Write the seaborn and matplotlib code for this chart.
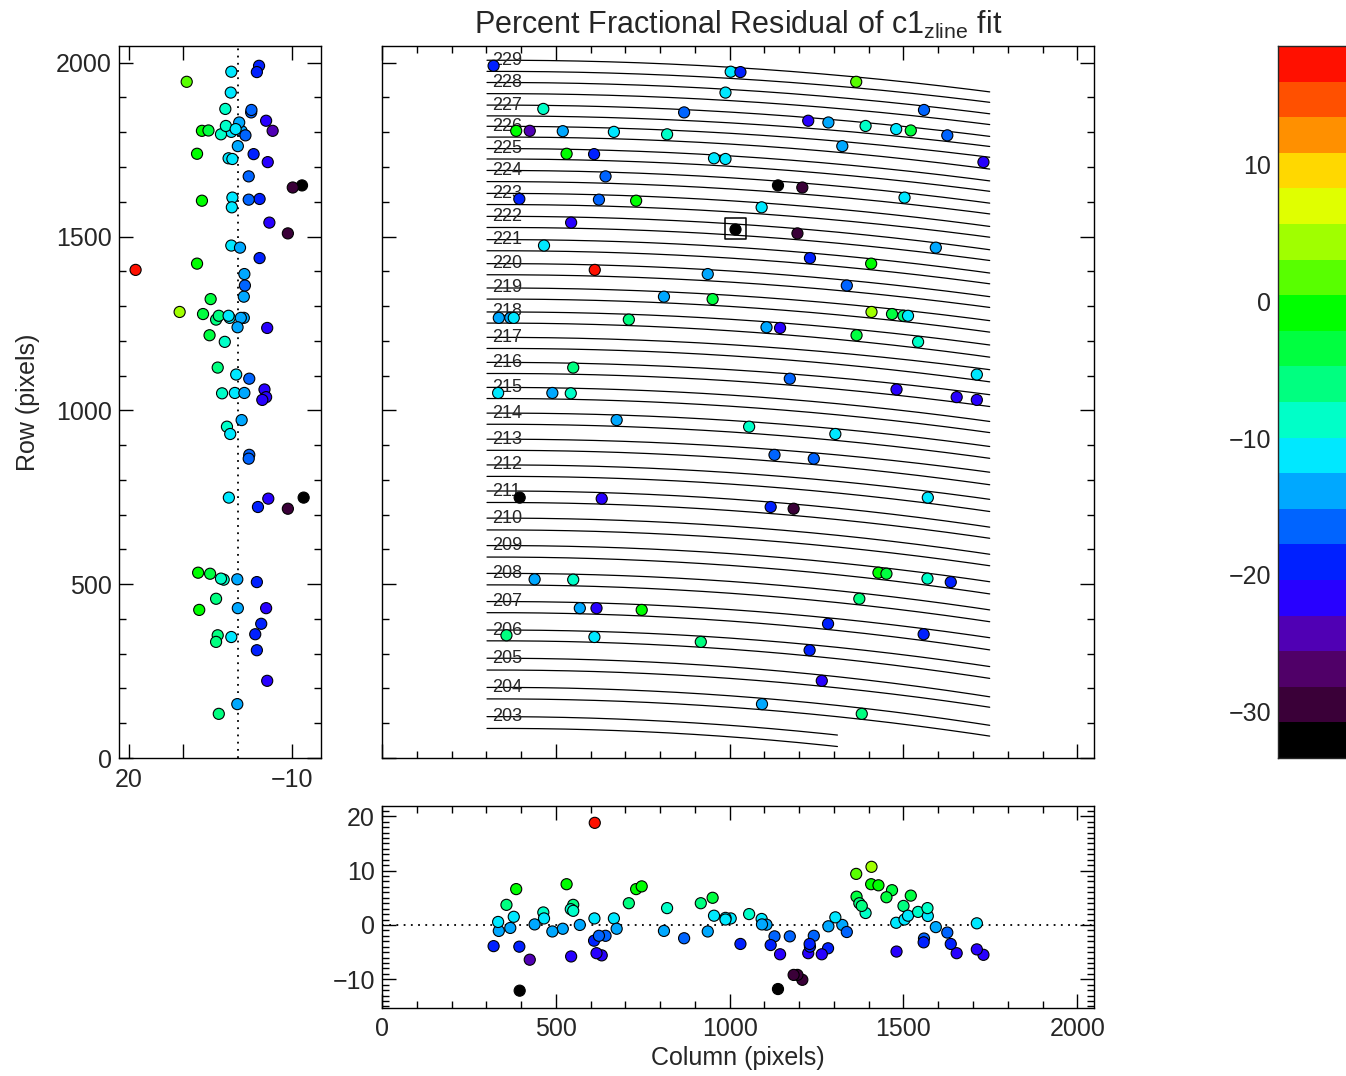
import numpy as np
import pandas as pd
import matplotlib
matplotlib.use("Agg")
import matplotlib.pyplot as plt
from matplotlib.colors import ListedColormap
from matplotlib.ticker import MultipleLocator, FixedLocator, NullFormatter
import seaborn as sns

# ---------------------------------------------------------------- data
# spot positions on the detector (pixels) and percent fractional residual
col = [321, 1003, 1031, 988, 464, 869, 386, 425, 520, 667, 820, 531, 610, 955, 988,
       643, 395, 624, 731, 544, 466, 612, 937, 1364, 1559, 1226, 1284, 1391, 1479, 1521,
       1626, 1324, 1730, 1139, 1209, 1503, 1092, 1195, 1593, 1231, 1407, 811, 951, 336, 369,
       379, 710, 550, 334, 490, 543, 675, 396, 632, 1337, 1408, 1467, 1500, 1513, 1106,
       1145, 1365, 1542, 1711, 1173, 1480, 1653, 1711, 1056, 1304, 1129, 1242, 1570, 1118, 1184,
       439, 550, 569, 617, 747, 358, 611, 917, 1428, 1451, 1569, 1636, 1373, 1283, 1558,
       1230, 1265, 1093, 1380]
row = [1991, 1974, 1973, 1914, 1867, 1857, 1804, 1804, 1803, 1801, 1794, 1738, 1737, 1725, 1723,
       1673, 1608, 1606, 1603, 1540, 1474, 1404, 1392, 1945, 1864, 1833, 1828, 1818, 1809, 1805,
       1791, 1760, 1714, 1647, 1641, 1612, 1584, 1509, 1468, 1438, 1422, 1327, 1320, 1266, 1266,
       1266, 1261, 1123, 1050, 1050, 1049, 972, 749, 746, 1359, 1283, 1277, 1272, 1272, 1239,
       1237, 1216, 1197, 1103, 1091, 1060, 1038, 1030, 953, 932, 872, 861, 749, 722, 717,
       514, 513, 431, 431, 426, 353, 348, 334, 533, 530, 516, 506, 458, 386, 356,
       310, 222, 155, 127]
resid = [-3.9, 1.2, -3.5, 1.3, 2.3, -2.45, 6.6, -6.4, -0.7, 1.2, 3.1, 7.5, -2.9, 1.7, 1.0,
         -2.0, -4.0, -2.0, 6.6, -5.8, 1.2, 18.8, -1.2, 9.4, -2.5, -5.2, -0.25, 2.2, 0.4, 5.4,
         -1.4, 0.0, -5.5, -11.8, -10.1, 1.0, 1.1, -9.2, -0.4, -4.0, 7.5, -1.1, 5.0, -1.1, -0.55,
         1.5, 4.0, 3.7, 0.55, -1.2, 2.9, -0.7, -12.1, -5.6, -1.3, 10.7, 6.4, 3.5, 1.7, 0.05,
         -5.4, 5.2, 2.4, 0.3, -2.1, -4.9, -5.2, -4.5, 2.0, 1.4, -2.1, -2.0, 1.65, -3.7, -9.2,
         0.1, 2.6, 0.0, -5.2, 7.1, 3.7, 1.2, 4.0, 7.3, 5.1, 3.1, -3.5, 4.0, -4.3, -3.2,
         -3.5, -5.4, 0.1, 3.5]

# flagged spot (boxed on the detector map)
flag_col = [1016]
flag_row = [1522]

# fiber traces: row at the left end, at column 1000 and at the right end
fiber_ids = [229, 228, 227, 226, 225, 224, 223, 222, 221, 220, 219, 218, 217, 216,
             215, 214, 213, 212, 211, 210, 209, 208, 207, 206, 205, 204, 203]
upper_left = [2007, 1943, 1878, 1817, 1753, 1690, 1624, 1558, 1491, 1422, 1352, 1283, 1210, 1138,
              1066, 992, 917, 843, 768, 690, 611, 531, 450, 368, 287, 203, 119]
upper_mid = [1987, 1923, 1858, 1797, 1732, 1669, 1603, 1537, 1470, 1401, 1331, 1262, 1189, 1117,
             1044, 971, 896, 821, 745, 667, 588, 508, 427, 345, 262, 179, 94]
upper_right = [1916, 1853, 1788, 1728, 1660, 1596, 1529, 1462, 1395, 1327, 1258, 1188, 1117, 1045,
               968, 896, 822, 744, 664, 586, 507, 426, 346, 263, 176, 94, 66]
lower_left = [1975, 1911, 1847, 1786, 1723, 1658, 1592, 1526, 1459, 1390, 1320, 1251, 1178, 1106,
              1034, 960, 885, 810, 735, 656, 578, 498, 418, 337, 253, 170, 85]
lower_mid = [1955, 1891, 1827, 1766, 1702, 1637, 1571, 1505, 1438, 1369, 1299, 1229, 1157, 1085,
             1012, 938, 863, 788, 712, 633, 554, 474, 394, 313, 229, 146, 61]
lower_right = [1886, 1822, 1759, 1694, 1630, 1565, 1498, 1431, 1364, 1296, 1225, 1153, 1082, 1011,
               936, 862, 786, 709, 632, 553, 472, 392, 311, 229, 146, 63, 33]
trace_start_col = 302
trace_mid_col = 1000
trace_end_col = [1748] * 26 + [1310]

# colour bar scale
cbar_lo, cbar_hi = -33.4, 18.7

# ---------------------------------------------------------------- style
band_colors = ['#000000', '#3a0038', '#500068', '#5000b4', '#2800ff', '#0020ff', '#0064ff',
               '#00a8ff', '#00e8ff', '#00ffc8', '#00ff80', '#00ff40', '#00ff00', '#58ff00',
               '#a0ff00', '#e0ff00', '#ffd800', '#ff9000', '#ff5000', '#ff1000']
n_band = len(band_colors)

sns.set_style("ticks")
plt.rcParams['font.family'] = ['Liberation Sans', 'DejaVu Sans']
plt.rcParams['mathtext.fontset'] = 'custom'
plt.rcParams['mathtext.rm'] = 'Liberation Sans'
plt.rcParams['mathtext.it'] = 'Liberation Sans'
plt.rcParams['axes.linewidth'] = 1.0

W, H = 1346, 1076
fig = plt.figure(figsize=(W / 100, H / 100), dpi=100)


def box(x0, y0, x1, y1):
    return [x0 / W, 1 - y1 / H, (x1 - x0) / W, (y1 - y0) / H]


ax_main = fig.add_axes(box(382, 46, 1094, 758))
ax_left = fig.add_axes(box(119, 46, 320.5, 758))
ax_bot = fig.add_axes(box(382, 806, 1094, 1007.5))
cax = fig.add_axes(box(1278, 46, 1400, 758))

df = pd.DataFrame({'col': col, 'row': row, 'resid': resid})
edges = np.linspace(df.resid.min(), df.resid.max(), n_band + 1)
df['band'] = np.clip(np.digitize(df.resid, edges[1:-1]), 0, n_band - 1)
palette = {i: c for i, c in enumerate(band_colors)}
pt = dict(hue='band', palette=palette, s=64, edgecolor='black', linewidth=0.8,
          legend=False, zorder=3)


def style_axes(ax):
    ax.tick_params(which='both', direction='in', top=True, right=True, width=1.0,
                   labelsize=18, color='black')
    ax.tick_params(which='major', length=10)
    ax.tick_params(which='minor', length=5)
    ax.tick_params(axis='x', pad=7)
    ax.tick_params(axis='y', pad=5)
    for s in ax.spines.values():
        s.set_color('black')
        s.set_linewidth(1.0)
    ax.set_xlabel('')
    ax.set_ylabel('')


# ---------------------------------------------------------------- detector map
for i, fid in enumerate(fiber_ids):
    xs = [trace_start_col, trace_mid_col, trace_end_col[i]]
    cc = np.linspace(trace_start_col, trace_end_col[i], 150)
    for rows3 in ((upper_left[i], upper_mid[i], upper_right[i]),
                  (lower_left[i], lower_mid[i], lower_right[i])):
        coef = np.polyfit(xs, rows3, 2)
        ax_main.plot(cc, np.polyval(coef, cc), color='black', lw=0.9, zorder=1)
    ax_main.text(316, upper_left[i], str(fid), fontsize=13, ha='left', va='center', zorder=2)

sns.scatterplot(data=df, x='col', y='row', ax=ax_main, **pt)
sns.scatterplot(x=flag_col, y=flag_row, color='black', s=64, edgecolor='black',
                linewidth=0.8, ax=ax_main, zorder=3)
ax_main.scatter(flag_col, flag_row, marker='s', s=230, facecolors='none',
                edgecolors='black', linewidths=1.1, zorder=4)
ax_main.set_xlim(0, 2048)
ax_main.set_ylim(0, 2048)
ax_main.xaxis.set_major_locator(MultipleLocator(500))
ax_main.xaxis.set_minor_locator(MultipleLocator(100))
ax_main.yaxis.set_major_locator(MultipleLocator(500))
ax_main.yaxis.set_minor_locator(MultipleLocator(100))
style_axes(ax_main)
ax_main.tick_params(labelbottom=False, labelleft=False)
ax_main.set_title(r'Percent Fractional Residual of c1$_{\mathrm{zline}}$ fit',
                  fontsize=22, pad=9)

# ---------------------------------------------------------------- row vs residual
ax_left.axvline(0, color='black', ls=(0, (1, 3)), lw=1.3, zorder=1)
sns.scatterplot(data=df, x='resid', y='row', ax=ax_left, **pt)
ax_left.set_xlim(21.85, -15.2)
ax_left.set_ylim(0, 2048)
ax_left.xaxis.set_major_locator(FixedLocator([20, 10, -10]))
ax_left.set_xticklabels(['20', '', '\u221210'])
ax_left.yaxis.set_major_locator(MultipleLocator(500))
ax_left.yaxis.set_minor_locator(MultipleLocator(100))
style_axes(ax_left)

# ---------------------------------------------------------------- residual vs column
ax_bot.axhline(0, color='black', ls=(0, (1, 3)), lw=1.3, zorder=1)
sns.scatterplot(data=df, x='col', y='resid', ax=ax_bot, **pt)
ax_bot.set_xlim(0, 2048)
ax_bot.set_ylim(-15.2, 21.9)
ax_bot.xaxis.set_major_locator(MultipleLocator(500))
ax_bot.xaxis.set_minor_locator(MultipleLocator(100))
ax_bot.yaxis.set_major_locator(MultipleLocator(10))
ax_bot.yaxis.set_minor_locator(MultipleLocator(1))
style_axes(ax_bot)

# ---------------------------------------------------------------- colour bar
cb_edges = np.linspace(cbar_lo, cbar_hi, n_band + 1)
cax.pcolormesh([0, 1], cb_edges, np.arange(n_band).reshape(-1, 1),
               cmap=ListedColormap(band_colors), vmin=-0.5, vmax=n_band - 0.5)
cax.set_xlim(0, 1)
cax.set_ylim(cbar_lo, cbar_hi)
cax.set_xticks([])
cax.yaxis.set_major_locator(FixedLocator([-30, -20, -10, 0, 10]))
cax.yaxis.set_minor_locator(MultipleLocator(1))
cax.tick_params(which='both', direction='in', left=True, right=True, labelsize=18,
                width=1.0, pad=5)
cax.tick_params(which='major', length=10)
cax.tick_params(which='minor', length=5)
for s in cax.spines.values():
    s.set_linewidth(1.0)

# ---------------------------------------------------------------- axis titles
fig.text(28 / W, 1 - 402 / H, 'Row (pixels)', rotation=90, ha='center', va='center',
         fontsize=18)
fig.text(738 / W, 1 - 1058 / H, 'Column (pixels)', ha='center', va='center', fontsize=18)

fig.savefig('out.png', dpi=100)
